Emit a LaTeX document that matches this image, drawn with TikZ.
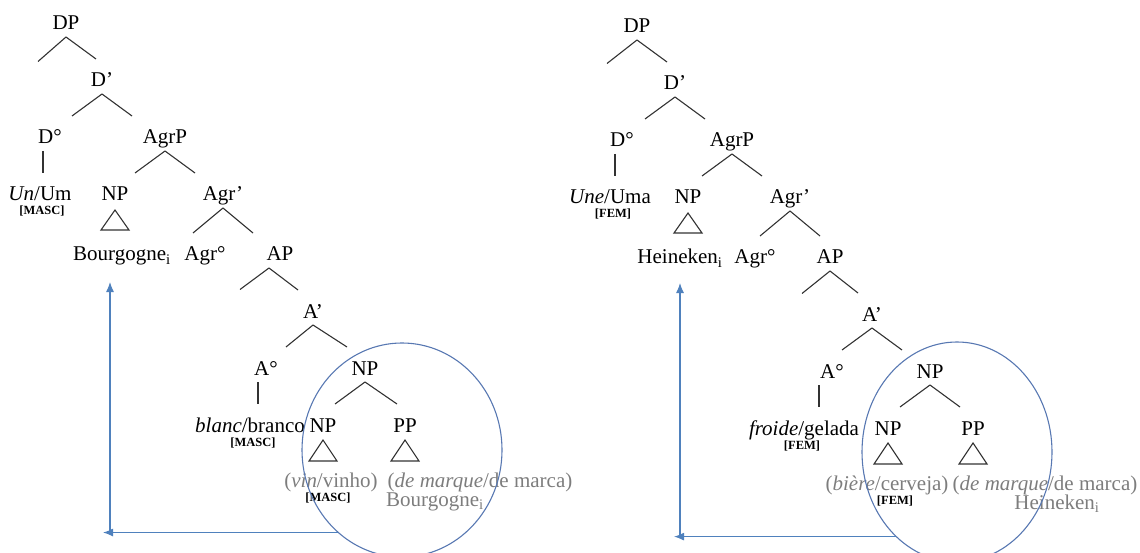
\documentclass[tikz,border=0pt]{standalone}
\usepackage{fontspec}
\setmainfont{Liberation Serif}
\usetikzlibrary{shapes,arrows.meta,positioning}
\definecolor{treeline}{RGB}{50,50,50}
\definecolor{leafgray}{RGB}{125,125,125}
\definecolor{arrowblue}{RGB}{79,129,189}
\definecolor{ringblue}{RGB}{88,120,178}
\newcommand{\treefont}{\fontsize{21}{23}\selectfont}
\newcommand{\tagfont}{\fontsize{12.5}{13}\selectfont\bfseries}
\tikzstyle{lab}    = [inner sep=0pt, outer sep=7pt, text height=21pt, text depth=0pt, font=\treefont]
\tikzstyle{leaf}   = [lab, text=leafgray]
\tikzstyle{tag}    = [inner sep=0pt, font=\tagfont]
\tikzstyle{branch} = [draw, treeline, line width=1.1pt]
\tikzstyle{roof}   = [draw, treeline, line width=1.1pt, line join=miter]
\tikzstyle{ring}   = [draw, ellipse, ringblue, line width=1.1pt, inner sep=0pt]
\tikzstyle{line}   = [draw, arrowblue, line width=1.2pt, -{Latex[length=10pt,width=8pt]}]

\begin{document}
\begin{tikzpicture}[x=1pt, y=1pt, node distance = 57pt]
	\useasboundingbox (0,0) rectangle (1140,-553);

		% Left tree (masc) %

		% 0 =======================================%
		\node [lab] (dpL) at (66,-19.5) {DP};
		\coordinate [below of = dpL, xshift=-28pt, yshift=15pt] (specL);
		% 1 =======================================%
		\node [lab, below of = dpL, xshift=36pt] (dbarL) {D'};
		% 2 =======================================%
		\node [lab, below of = dbarL, xshift=-52pt] (d0L) {D°};
		\node [lab, below of = dbarL, xshift=63pt] (agrpL) {AgrP};
		% 3 =======================================%
		\node [lab, below of = d0L, xshift=-10pt] (umL) {\textit{Un}/Um};
		\node [tag, below of = umL, node distance=21pt, xshift=2pt] (mascL1) {[MASC]};
		\node [lab, below of = agrpL, xshift=-50pt] (npL) {NP};
		\node [lab, below of = agrpL, xshift=58pt] (agrbarL) {Agr'};
		% 4 =======================================%
		\node [lab, below of = npL, xshift=7pt, yshift=-3pt] (bourgL) {Bourgogne\textsubscript{i}};
		\node [lab, below of = agrbarL, xshift=-18pt, yshift=-3pt] (agr0L) {Agr°};
		\node [lab, below of = agrbarL, xshift=57pt, yshift=-3pt] (apL) {AP};
		\coordinate [below of = apL, xshift=-40pt, yshift=18pt] (specL2);
		% 5 =======================================%
		\node [lab, below of = apL, xshift=33pt] (abarL) {A'};
		% 6 =======================================%
		\node [lab, below of = abarL, xshift=-47pt] (a0L) {A°};
		\node [lab, below of = abarL, xshift=52pt] (np2L) {NP};
		% 7 =======================================%
		\node [lab, below of = a0L, xshift=-16pt] (brancoL) {\textit{blanc}/branco};
		\node [tag, below of = brancoL, node distance=21pt, xshift=3pt] (mascL2) {[MASC]};
		\node [lab, below of = np2L, xshift=-42pt] (np3L) {NP};
		\node [lab, below of = np2L, xshift=40pt] (ppL) {PP};
		% 8 =======================================%
		\node [leaf, below of = np3L, xshift=8pt, yshift=2pt] (vinhoL) {(\textit{vin}/vinho)};
		\node [tag, below of = vinhoL, node distance=21pt, xshift=-3pt] (mascL3) {[MASC]};
		\node [leaf, below of = ppL, xshift=75pt, yshift=2pt] (marcaL) {(\textit{de marque}/de marca)};
		\node [leaf, below of = marcaL, node distance=19pt, xshift=-45pt] (bourgL2) {Bourgogne\textsubscript{i}};
		%=========================================%
		\node [ring, minimum width=200pt, minimum height=214pt] (ringL) at (402,-450) {};
		\coordinate (cornerL) at (110,-532);

		% Right tree (fem) %

		% 0 =======================================%
		\node [lab] (dpR) at (637,-22.5) {DP};
		\coordinate [below of = dpR, xshift=-30pt, yshift=16pt] (specR);
		% 1 =======================================%
		\node [lab, below of = dpR, xshift=38pt] (dbarR) {D'};
		% 2 =======================================%
		\node [lab, below of = dbarR, xshift=-53pt] (d0R) {D°};
		\node [lab, below of = dbarR, xshift=57pt] (agrpR) {AgrP};
		% 3 =======================================%
		\node [lab, below of = d0R, xshift=-12pt] (umaR) {\textit{Une}/Uma};
		\node [tag, below of = umaR, node distance=21pt, xshift=3pt] (femR1) {[FEM]};
		\node [lab, below of = agrpR, xshift=-44pt] (npR) {NP};
		\node [lab, below of = agrpR, xshift=58pt] (agrbarR) {Agr'};
		% 4 =======================================%
		\node [lab, below of = npR, xshift=-8pt, yshift=-3pt] (heinR) {Heineken\textsubscript{i}};
		\node [lab, below of = agrbarR, xshift=-35pt, yshift=-3pt] (agr0R) {Agr°};
		\node [lab, below of = agrbarR, xshift=40pt, yshift=-3pt] (apR) {AP};
		\coordinate [below of = apR, xshift=-28pt, yshift=17pt] (specR2);
		% 5 =======================================%
		\node [lab, below of = apR, xshift=42pt] (abarR) {A'};
		% 6 =======================================%
		\node [lab, below of = abarR, xshift=-40pt] (a0R) {A°};
		\node [lab, below of = abarR, xshift=58pt] (np2R) {NP};
		% 7 =======================================%
		\node [lab, below of = a0R, xshift=-28pt] (geladaR) {\textit{froide}/gelada};
		\node [tag, below of = geladaR, node distance=21pt, xshift=-2pt] (femR2) {[FEM]};
		\node [lab, below of = np2R, xshift=-42pt] (np3R) {NP};
		\node [lab, below of = np2R, xshift=43pt] (ppR) {PP};
		% 8 =======================================%
		\node [leaf, below of = np3R, xshift=-1pt, yshift=2pt] (bierR) {(\textit{bière}/cerveja)};
		\node [tag, below of = bierR, node distance=21pt, xshift=8pt] (femR3) {[FEM]};
		\node [leaf, below of = ppR, xshift=72pt, yshift=2pt] (marcaR) {(\textit{de marque}/de marca)};
		\node [leaf, below of = marcaR, node distance=19pt, xshift=12pt] (heinR2) {Heineken\textsubscript{i}};
		%=========================================%
		\node [ring, minimum width=190pt, minimum height=220pt] (ringR) at (957,-452) {};
		\coordinate (cornerR) at (680,-536);

		% Connection %

		\path [branch] (dpL.south) -- (specL);
		\path [branch] (dpL.south) -- ([xshift=-6pt]dbarL.north);
		\path [branch] (dbarL.south) -- ([xshift=22pt]d0L.north);
		\path [branch] (dbarL.south) -- ([xshift=-33pt]agrpL.north);
		\path [branch] ([xshift=3pt]umL.north |- d0L.south) -- ([xshift=3pt]umL.north);
		\path [branch] (agrpL.south) -- ([xshift=20pt]npL.north);
		\path [branch] (agrpL.south) -- ([xshift=-28pt]agrbarL.north);
		\path [branch] (agrbarL.south) -- ([xshift=-12pt]agr0L.north);
		\path [branch] (agrbarL.south) -- ([xshift=-27pt]apL.north);
		\path [branch] ([xshift=-11pt]apL.south) -- (specL2);
		\path [branch] ([xshift=-11pt]apL.south) -- ([xshift=-15pt]abarL.north);
		\path [branch] (abarL.south) -- ([xshift=20pt]a0L.north);
		\path [branch] (abarL.south) -- ([xshift=-18pt]np2L.north);
		\path [branch] ([xshift=8pt]brancoL.north |- a0L.south) -- ([xshift=8pt]brancoL.north);
		\path [branch] (np2L.south) -- ([xshift=12pt]np3L.north);
		\path [branch] (np2L.south) -- ([xshift=-8pt]ppL.north);
		\draw [roof] ([yshift=-2pt]npL.south) -- ++(-14,-20) -- ++(28,0) -- cycle;
		\draw [roof] ([yshift=-1pt]np3L.south) -- ++(-14,-21) -- ++(28,0) -- cycle;
		\draw [roof] ([yshift=-1pt]ppL.south) -- ++(-14,-21) -- ++(28,0) -- cycle;
		\path [line] (ringL.232) -- ([xshift=-7pt]ringL.232 -| cornerL);
		\path [line, shorten >=14pt] (cornerL) -- (cornerL |- bourgL.south);

		\path [branch] (dpR.south) -- (specR);
		\path [branch] (dpR.south) -- ([xshift=-8pt]dbarR.north);
		\path [branch] (dbarR.south) -- ([xshift=23pt]d0R.north);
		\path [branch] (dbarR.south) -- ([xshift=-27pt]agrpR.north);
		\path [branch] ([xshift=5pt]umaR.north |- d0R.south) -- ([xshift=5pt]umaR.north);
		\path [branch] (agrpR.south) -- ([xshift=14pt]npR.north);
		\path [branch] (agrpR.south) -- ([xshift=-28pt]agrbarR.north);
		\path [branch] (agrbarR.south) -- ([xshift=5pt]agr0R.north);
		\path [branch] (agrbarR.south) -- ([xshift=-10pt]apR.north);
		\path [branch] (apR.south) -- (specR2);
		\path [branch] (apR.south) -- ([xshift=-14pt]abarR.north);
		\path [branch] (abarR.south) -- ([xshift=10pt]a0R.north);
		\path [branch] (abarR.south) -- ([xshift=-28pt]np2R.north);
		\path [branch] ([xshift=15pt]geladaR.north |- a0R.south) -- ([xshift=15pt]geladaR.north);
		\path [branch] (np2R.south) -- ([xshift=12pt]np3R.north);
		\path [branch] (np2R.south) -- ([xshift=-13pt]ppR.north);
		\draw [roof] ([yshift=-2pt]npR.south) -- ++(-14,-20) -- ++(28,0) -- cycle;
		\draw [roof] ([yshift=-1pt]np3R.south) -- ++(-14,-21) -- ++(28,0) -- cycle;
		\draw [roof] ([yshift=-1pt]ppR.south) -- ++(-14,-21) -- ++(28,0) -- cycle;
		\path [line] (ringR.234) -- ([xshift=-6pt]ringR.234 -| cornerR);
		\path [line, shorten >=12pt] (cornerR) -- (cornerR |- heinR.south);
	\end{tikzpicture}
\end{document}
